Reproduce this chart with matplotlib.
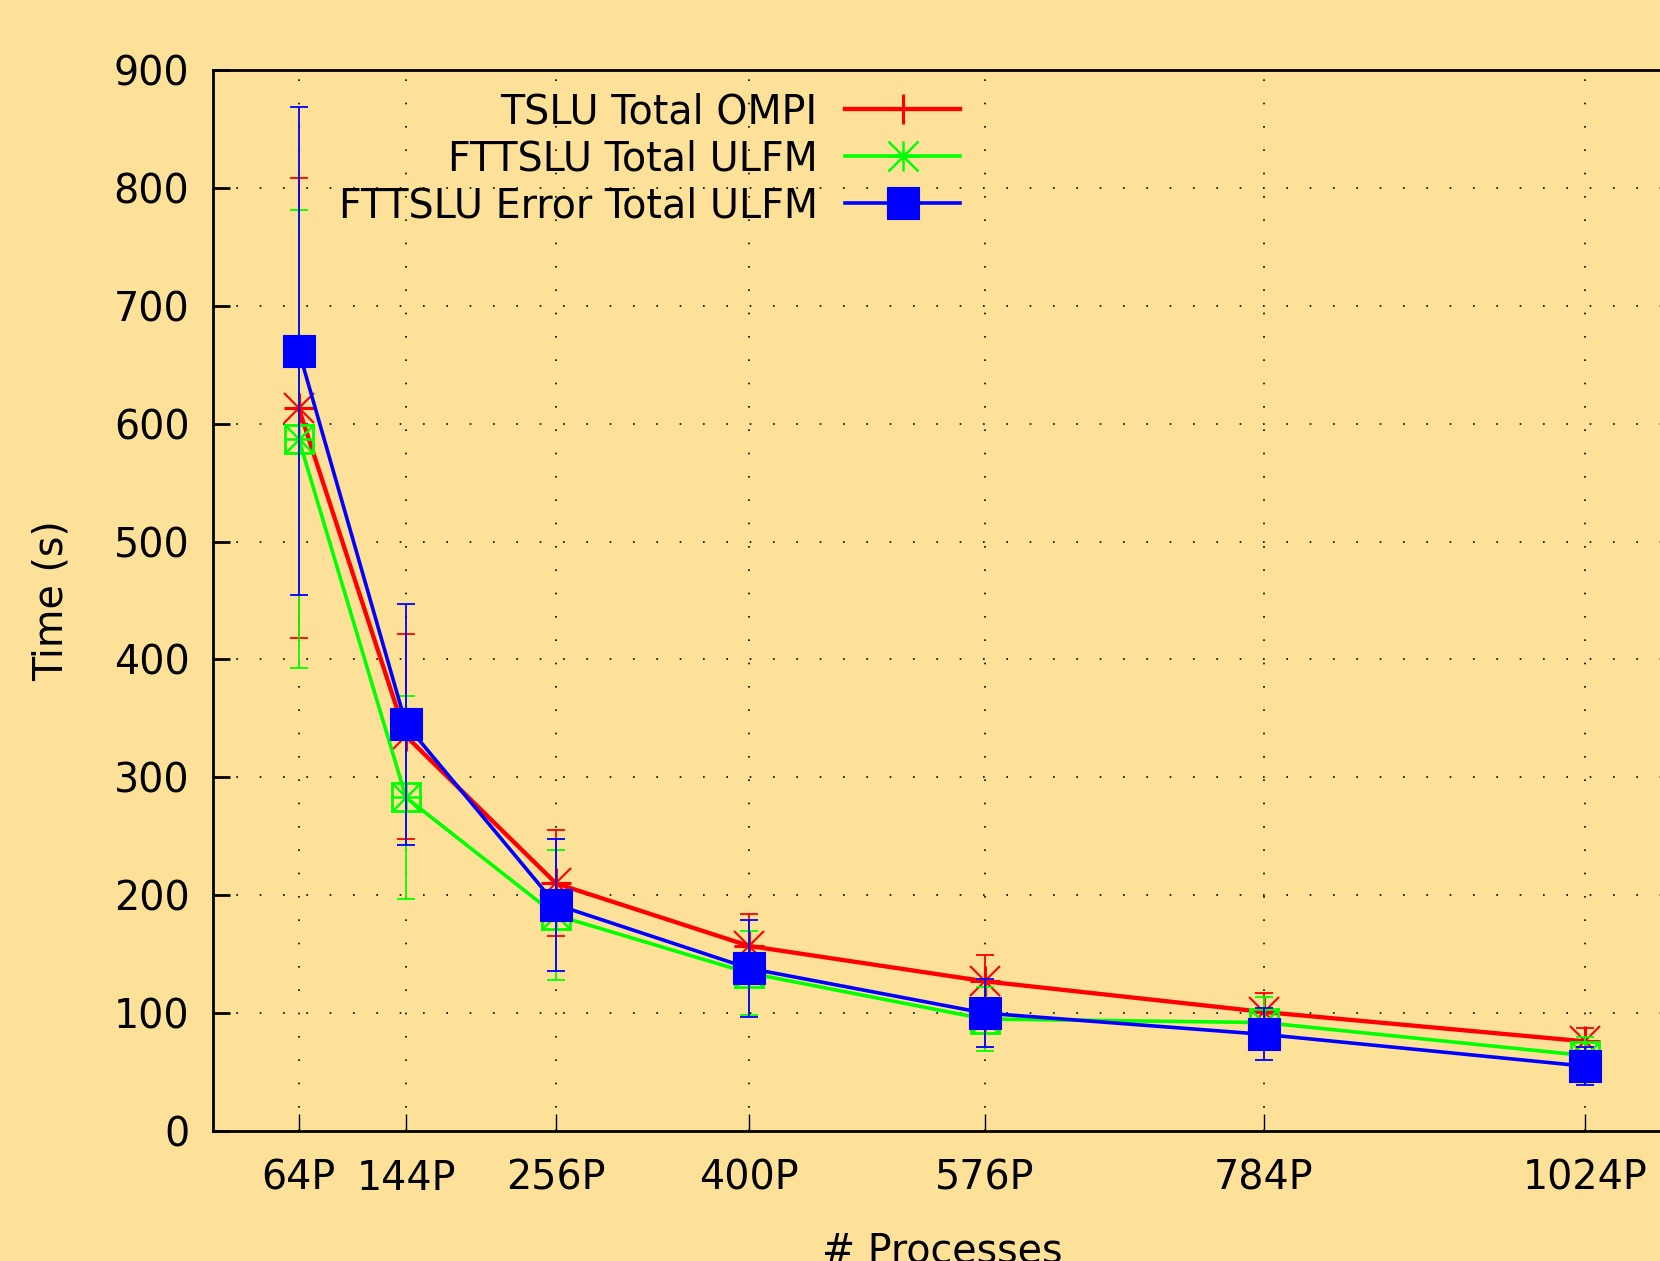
#%%
# ============================================================
# TSLU / FTTSLU total time vs number of processes
# gnuplot-like look: cream background, dotted grid, inward ticks
# ============================================================

import matplotlib.pyplot as plt
from matplotlib.lines import Line2D

# ------------------------------------------------------------
# Data
# ------------------------------------------------------------
procs = [64, 144, 256, 400, 576, 784, 1024]
proc_labels = ["64P", "144P", "256P", "400P", "576P", "784P", "1024P"]

tslu_ompi = [613, 335, 210, 157, 127, 101, 76]
tslu_ompi_err = [195, 87, 45, 27, 22, 16, 11]

fttslu_ulfm = [587, 283, 183, 134, 95, 92, 64]
fttslu_ulfm_err = [194, 86, 55, 36, 27, 22, 16]

fttslu_err_ulfm = [662, 345, 192, 138, 100, 82, 55]
fttslu_err_ulfm_err = [207, 102, 56, 41, 29, 22, 16]

bg = "#fde198"
red, green, blue = "#ff0000", "#00ff00", "#0000ff"

plt.rcParams["font.family"] = "DejaVu Sans"
plt.rcParams["font.size"] = 28.5

# ------------------------------------------------------------
# Figure
# ------------------------------------------------------------
fig = plt.figure(figsize=(16.6, 12.61), dpi=100, facecolor=bg)
ax = fig.add_axes([213 / 1660, 1 - 1131 / 1261, (1687 - 213) / 1660, (1131 - 70) / 1261])
ax.set_facecolor(bg)

ax.set_xlim(0, 1100)
ax.set_ylim(0, 900)

# error bars
for y, e, c, z in [(tslu_ompi, tslu_ompi_err, red, 3),
                   (fttslu_ulfm, fttslu_ulfm_err, green, 4),
                   (fttslu_err_ulfm, fttslu_err_ulfm_err, blue, 5)]:
    ax.errorbar(procs, y, yerr=e, fmt="none", ecolor=c, elinewidth=1.3,
                capsize=6.5, capthick=1.3, zorder=z)

# lines
ax.plot(procs, tslu_ompi, color=red, lw=3.1, zorder=3)
ax.plot(procs, fttslu_ulfm, color=green, lw=2.6, zorder=4)
ax.plot(procs, fttslu_err_ulfm, color=blue, lw=2.6, zorder=5)

# markers
ax.plot(procs, tslu_ompi, ls="none", marker="+", ms=21, mew=2.2, color=red, zorder=3)
ax.plot(procs, tslu_ompi, ls="none", marker="x", ms=21, mew=1.5, color=red, zorder=3)
ax.plot(procs, fttslu_ulfm, ls="none", marker="+", ms=21, mew=1.8, color=green, zorder=4)
ax.plot(procs, fttslu_ulfm, ls="none", marker="x", ms=21, mew=1.8, color=green, zorder=4)
ax.plot(procs, fttslu_ulfm, ls="none", marker="s", ms=20, mew=2.0,
        mfc="none", mec=green, zorder=4)
ax.plot(procs, fttslu_err_ulfm, ls="none", marker="s", ms=23, mew=0.8,
        color=blue, zorder=5)

# ------------------------------------------------------------
# Axes styling
# ------------------------------------------------------------
ax.set_xticks(procs)
ax.set_xticklabels(proc_labels)
ax.set_yticks(range(0, 901, 100))

ax.tick_params(axis="both", direction="in", length=12, width=1.0, color="black")
ax.tick_params(axis="y", width=2.0, pad=17)
ax.tick_params(axis="x", pad=20)

for side in ["left", "bottom", "top", "right"]:
    ax.spines[side].set_linewidth(2.0)
    ax.spines[side].set_color("black")

ax.grid(True, color="black", linestyle=(0, (1, 13)), linewidth=1.2)
ax.set_axisbelow(True)

ax.set_xlabel("# Processes")
ax.xaxis.set_label_coords((942 - 213) / 1474, -0.095)
ax.set_ylabel("Time (s)", labelpad=30)

# ------------------------------------------------------------
# Legend (text right-aligned, key on the right)
# ------------------------------------------------------------
h_red = Line2D([], [], color=red, lw=3.1, marker="+", ms=21, mew=2.2)
h_green = (Line2D([], [], color=green, lw=2.6, marker="+", ms=21, mew=1.8),
           Line2D([], [], ls="none", color=green, marker="x", ms=21, mew=1.8))
h_blue = Line2D([], [], color=blue, lw=2.6, marker="s", ms=23, mew=0.8)

ax.legend([h_red, h_green, h_blue],
          ["TSLU Total OMPI", "FTTSLU Total ULFM", "FTTSLU Error Total ULFM"],
          loc="upper right", bbox_to_anchor=(960 / 1660, 1 - 92 / 1261),
          bbox_transform=fig.transFigure, frameon=False, markerfirst=False,
          handlelength=2.9, handletextpad=0.7, labelspacing=0.18,
          borderpad=0, borderaxespad=0)

fig.savefig("out.png", dpi=100, facecolor=bg)
